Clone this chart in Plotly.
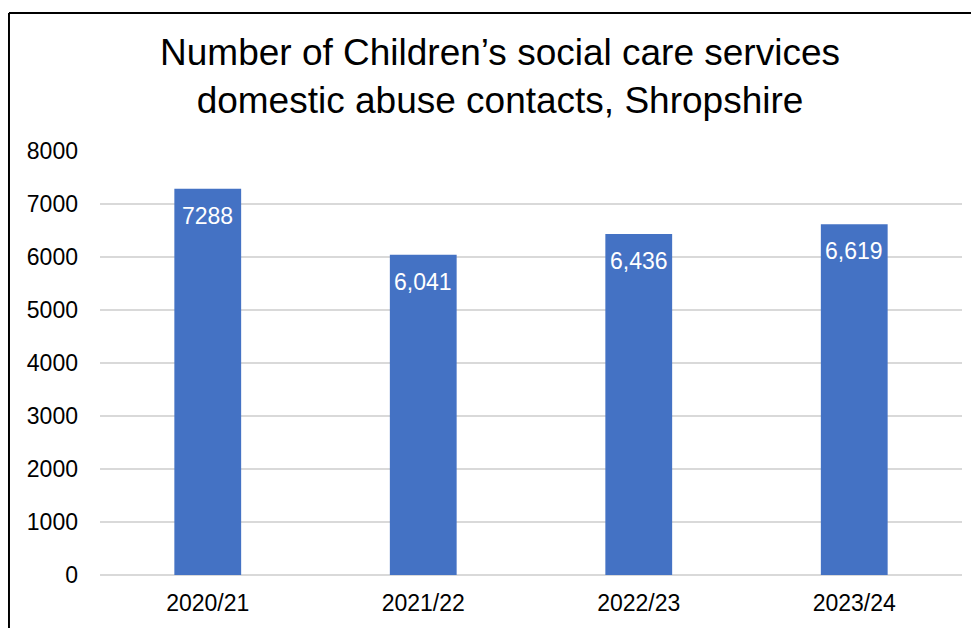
import plotly.graph_objects as go

# chart data
years = ["2020/21", "2021/22", "2022/23", "2023/24"]
contacts = [7288, 6041, 6436, 6619]
contact_labels = ["7288", "6,041", "6,436", "6,619"]

BLUE = "#4472C4"
FONT = "Liberation Sans, Arial, sans-serif"

# page body has an 8px margin, so the figure is sized/offset to suit
W, H = 971, 620

fig = go.Figure()
fig.add_trace(
    go.Bar(
        x=years,
        y=contacts,
        marker=dict(color=BLUE, line=dict(width=0)),
        hoverinfo="x+y",
    )
)

# value labels sitting just inside the top of each bar
for yr, val, lab in zip(years, contacts, contact_labels):
    fig.add_annotation(
        x=yr,
        y=val,
        text=lab,
        showarrow=False,
        yanchor="top",
        yshift=-12,
        font=dict(family=FONT, size=23, color="white"),
    )

# chart border (left and top edges visible in the reference)
fig.add_shape(type="line", xref="paper", yref="paper",
              x0=-0.1056, x1=-0.1056, y0=1.3255, y1=-0.2,
              line=dict(color="black", width=2))
fig.add_shape(type="line", xref="paper", yref="paper",
              x0=-0.1056, x1=1.1, y0=1.3255, y1=1.3255,
              line=dict(color="black", width=2))

fig.update_layout(
    width=W,
    height=H,
    autosize=False,
    paper_bgcolor="white",
    plot_bgcolor="white",
    margin=dict(l=92, r=17, t=143, b=50),
    bargap=0.69,
    showlegend=False,
    font=dict(family=FONT, size=23, color="black"),
    title=dict(
        text="Number of Children’s social care services<br>domestic abuse contacts, Shropshire",
        font=dict(family=FONT, size=37, color="black"),
        xref="container",
        x=492 / W,
        xanchor="center",
        yref="container",
        y=1 - 57 / H,
        yanchor="top",
    ),
    xaxis=dict(
        showgrid=False,
        showline=False,
        ticks="",
        tickfont=dict(size=23),
        ticklabelstandoff=12,
    ),
    yaxis=dict(
        range=[0, 8000],
        tickvals=[0, 1000, 2000, 3000, 4000, 5000, 6000, 7000, 8000],
        showgrid=True,
        gridcolor="#D9D9D9",
        gridwidth=1.5,
        zeroline=True,
        zerolinecolor="#D9D9D9",
        zerolinewidth=1.5,
        showline=False,
        ticks="",
        tickformat="d",
        tickfont=dict(size=23),
        ticklabelstandoff=21,
    ),
)

fig.write_html("out.html")
